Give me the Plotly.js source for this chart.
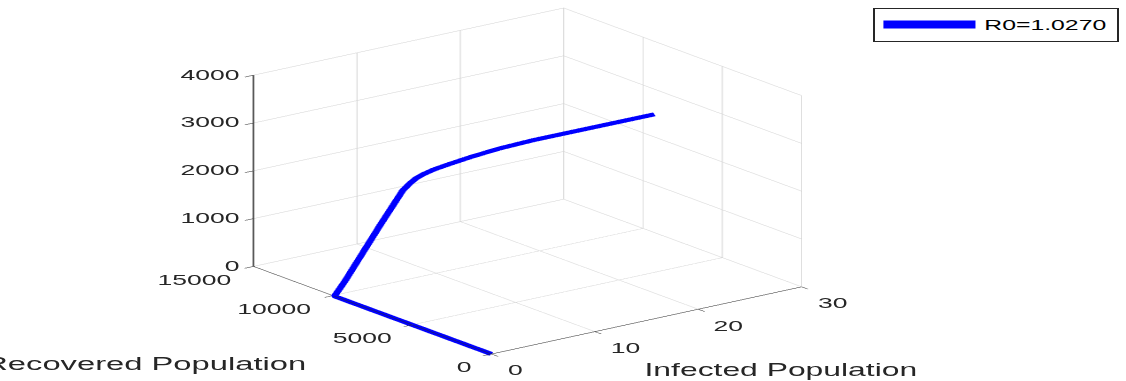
<!DOCTYPE html>
<html><head><meta charset="utf-8">
<script src="https://cdn.plot.ly/plotly-3.0.1.min.js"></script>
<style>
html,body{margin:0;padding:0;background:#fff;overflow:hidden;width:1126px;height:381px}
#wrap{width:1126px;height:381px;overflow:hidden;position:relative}
#chart{width:636px;height:381px;transform:scaleX(1.7704);transform-origin:0 0;}
</style></head><body>
<div id="wrap"><div id="chart"></div></div>
<script>
const infected  = [0, 0, 0, 1.0, 4.5, 6.6, 7.3, 7.9, 8.6, 9.5, 10.8, 13.0, 15.5, 18.5, 29.8];
const recovered = [0, 5000, 9900, 9900, 9900, 9900, 9900, 9890, 9860, 9820, 9750, 9680, 9600, 9450, 9150];
const zvals     = [0, 0, 0, 263, 1302, 1900, 2020, 2100, 2160, 2215, 2270, 2340, 2400, 2450, 2500];
const xTicks = [0, 10, 20, 30];
const yTicks = [0, 5000, 10000, 15000];
const zTicks = [0, 1000, 2000, 3000, 4000];
const xRange = [0, 30], yRange = [0, 15000], zRange = [0, 4000];
const seriesName = 'R0=1.0270';
const xTitle = 'Infected Population';
const yTitle = 'Recovered Population';

const FONT = 'Liberation Sans, Arial, Helvetica, sans-serif';
const INK = '#262626';
const tickFont = {family: FONT, size: 15, color: INK};
const axisCommon = {
  showgrid: true, gridcolor: '#d2d2d2', gridwidth: 1,
  showline: true, linecolor: INK, linewidth: 1,
  ticks: 'outside', tickcolor: INK, ticklen: 6,
  showbackground: false, zeroline: false, showspikes: false,
  showticklabels: false,
  autorange: false, title: {text: ''}
};

// tick labels as scene annotations (horizontal, MATLAB-like placement)
const sceneAnn = [];
zTicks.forEach(v => sceneAnn.push({x: xRange[0], y: yRange[1], z: v, text: String(v),
  showarrow: false, xanchor: 'right', yanchor: 'middle', xshift: -6, yshift: 1, font: tickFont}));
yTicks.forEach(v => sceneAnn.push({x: xRange[0], y: v, z: zRange[0], text: String(v),
  showarrow: false, xanchor: 'right', yanchor: 'middle', xshift: -10, yshift: -13, font: tickFont}));
xTicks.forEach(v => sceneAnn.push({x: v, y: yRange[0], z: zRange[0], text: String(v),
  showarrow: false, xanchor: 'left', yanchor: 'middle', xshift: 7, yshift: -16, font: tickFont}));

const trace = {
  type: 'scatter3d', mode: 'lines',
  x: infected, y: recovered, z: zvals,
  name: seriesName, showlegend: true,
  line: {color: '#0000ff', width: 8},
  hoverinfo: 'skip'
};

const d = 2.0, s = 1.22;
const layout = {
  width: 636, height: 381,
  margin: {l: 0, r: 0, t: 0, b: 0},
  paper_bgcolor: '#fff',
  showlegend: true,
  legend: {x: 0.9937, xanchor: 'right', y: 0.979, yanchor: 'top',
    bordercolor: INK, borderwidth: 1, bgcolor: '#fff',
    font: {family: FONT, size: 14, color: '#000'}, itemwidth: 52},
  annotations: [
    {text: xTitle, xref: 'paper', yref: 'paper', x: 0.693, y: 0.029,
     xanchor: 'center', yanchor: 'middle', showarrow: false,
     font: {family: FONT, size: 18, color: INK}},
    {text: yTitle, xref: 'paper', yref: 'paper', x: 0.2758, y: 0.046,
     xanchor: 'right', yanchor: 'middle', showarrow: false,
     font: {family: FONT, size: 18.5, color: INK}}
  ],
  scene: {
    domain: {x: [0, 0.937], y: [0.05, 1]},
    aspectmode: 'manual', aspectratio: {x: s, y: s, z: s},
    camera: {
      eye: {x: -0.527 * d, y: -0.687 * d, z: 0.5 * d},
      up: {x: 0, y: 0, z: 1}, center: {x: 0, y: 0, z: 0},
      projection: {type: 'orthographic'}
    },
    xaxis: Object.assign({}, axisCommon, {range: xRange, tickvals: xTicks}),
    yaxis: Object.assign({}, axisCommon, {range: yRange, tickvals: yTicks}),
    zaxis: Object.assign({}, axisCommon, {range: zRange, tickvals: zTicks, linewidth: 2}),
    annotations: sceneAnn
  }
};

Plotly.newPlot('chart', [trace], layout, {displayModeBar: false, responsive: false});
</script>
</body></html>
